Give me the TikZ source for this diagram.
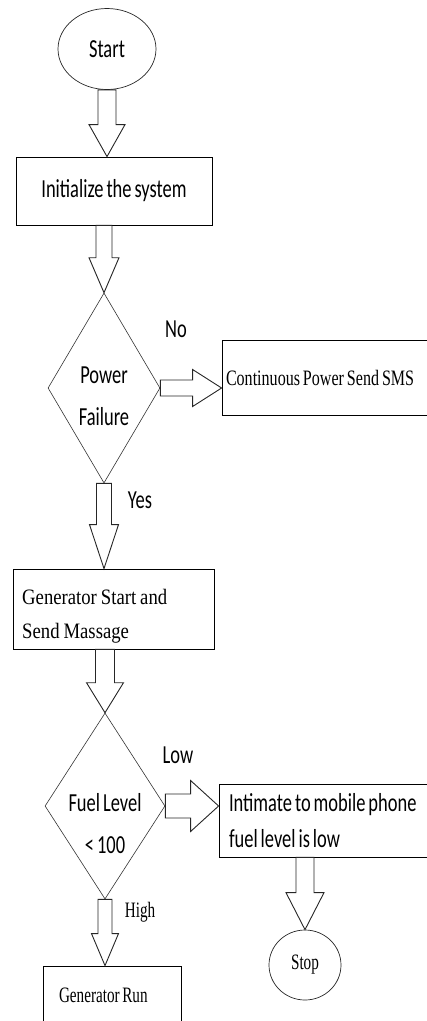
\documentclass[tikz,border=0pt]{standalone}
\usepackage{fontspec}
\usetikzlibrary{shapes.geometric,calc}
% narrow, tall lettering (word spaces narrowed to match the glyphs)
\newfontfamily\flowsans[FakeStretch=0.71,WordSpace=0.71]{Carlito}
\newfontfamily\serifnarrow[FakeStretch=0.69,WordSpace=0.69]{Liberation Serif}
\newfontfamily\serifmid[FakeStretch=0.73,WordSpace=0.73]{Liberation Serif}
\newfontfamily\serifwide[FakeStretch=0.85,WordSpace=0.85]{Liberation Serif}
% use the font's own word space inside aligned node text
\newcommand\fontspaces{\spaceskip=0pt\xspaceskip=0pt\relax}

\tikzset{
  box/.style={draw=black, line width=0.8pt, rectangle, inner sep=0pt},
  decision/.style={draw=black!80, line width=0.6pt, diamond, inner sep=0pt},
  terminal/.style={draw=black!85, line width=0.7pt, ellipse, inner sep=0pt},
  flow/.style={draw=black!85, line width=0.9pt, line join=miter},
  sanstext/.style={font=\flowsans\fontsize{26}{30}\selectfont, inner sep=0pt},
  seriftext/.style={font=\serifnarrow\fontsize{22}{26}\selectfont, inner sep=0pt},
}

% hollow block arrow pointing down: from, tip, shaft half-width, head half-width, head length
\newcommand\flowdown[5]{%
  \draw[flow] let \p1=(#1), \p2=(#2) in
    (\x2-#3,\y1) -- (\x2-#3,\y2+#5) -- (\x2-#4,\y2+#5) -- (\x2,\y2)
    -- (\x2+#4,\y2+#5) -- (\x2+#3,\y2+#5) -- (\x2+#3,\y1) -- cycle;}
% hollow block arrow pointing right
\newcommand\flowright[5]{%
  \draw[flow] let \p1=(#1), \p2=(#2) in
    (\x1,\y2+#3) -- (\x2-#5,\y2+#3) -- (\x2-#5,\y2+#4) -- (\x2,\y2)
    -- (\x2-#5,\y2-#4) -- (\x2-#5,\y2-#3) -- (\x1,\y2-#3) -- cycle;}

\begin{document}
\begin{tikzpicture}[x=1pt, y=-1pt]
\useasboundingbox (0,0) rectangle (427,1021);
\clip (0,0) rectangle (427,1021);

% main column
\node[terminal, minimum width=98pt, minimum height=81pt, sanstext] (start) at (107,49) {Start};
\node[box, minimum width=196pt, minimum height=68pt, font=\flowsans\fontsize{26}{30}\selectfont] (init) at (114,191) {Initialize the system};
\node[decision, minimum width=112pt, minimum height=190pt] (pf) at (104,388) {};
\node[sanstext, align=center, font=\flowsans\fontsize{26}{42}\selectfont] (pftext) at (104,396) {Power\\Failure};
\node[box, minimum width=201pt, minimum height=80pt] (gs) at (113.5,609) {};
\node[inner sep=0pt, anchor=west, align=left, font=\serifwide\fontsize{22}{34}\selectfont]
      (gstext) at (22,616) {\fontspaces Generator Start and\\\fontspaces Send Massage};
\node[decision, minimum width=120pt, minimum height=186pt] (fl) at (105,806) {};
\node[sanstext, align=center, font=\flowsans\fontsize{26}{42}\selectfont] (fltext) at (105,824) {Fuel Level\\< 100};
\node[box, minimum width=138pt, minimum height=58pt, text width=106pt, align=left,
      font=\serifnarrow\fontsize{22}{26}\selectfont] (gr) at (112,995) {\fontspaces Generator Run};

% side branch
\node[box, minimum width=213pt, minimum height=75pt, text width=205pt, align=left,
      font=\serifmid\fontsize{22}{26}\selectfont] (cp) at (328.5,377.5) {\fontspaces\mbox{Continuous Power Send SMS}};
\node[box, minimum width=225pt, minimum height=73pt, text width=205pt, align=left,
      font=\flowsans\fontsize{26}{36}\selectfont] (int) at (331.5,820.5) {\fontspaces Intimate to mobile phone\\fuel level is low};
\node[terminal, minimum width=72pt, minimum height=70pt, seriftext] (stop) at (305,965) {Stop};

% branch labels
\node[sanstext] (no) at (176,329) {No};
\node[sanstext] (yes) at (140,500) {Yes};
\node[sanstext] (low) at (178,755) {Low};
\node[seriftext] (high) at (140,912) {High};

% connectors
\flowdown{start.south}{start.south |- init.north}{9pt}{18pt}{32pt}
\flowdown{pf.north |- init.south}{pf.north}{8pt}{15pt}{35pt}
\flowright{pf.east}{pf.east -| cp.west}{8pt}{18.5pt}{29pt}
\flowdown{pf.south}{pf.south |- gs.north}{7.5pt}{14.5pt}{44pt}
\flowdown{fl.north |- gs.south}{fl.north}{9.5pt}{18.5pt}{30pt}
\flowright{fl.east}{fl.east -| int.west}{12pt}{25.5pt}{28pt}
\flowdown{fl.south}{fl.south |- gr.north}{7pt}{13.5pt}{32pt}
\flowdown{stop.north |- int.south}{stop.north}{9pt}{19pt}{37pt}
\end{tikzpicture}
\end{document}
